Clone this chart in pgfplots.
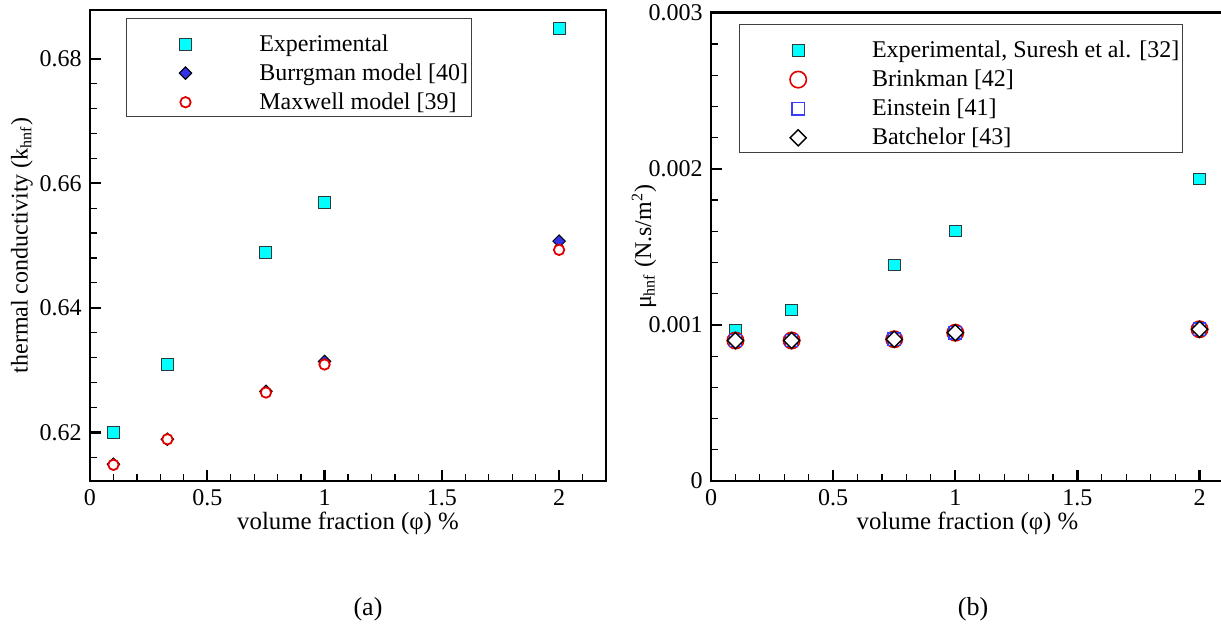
\documentclass[border=0pt]{standalone}
\usepackage{pgfplots}
\pgfplotsset{compat=1.18}
\usepackage{fontspec}
\setmainfont{Liberation Serif}
\definecolor{expcyan}{RGB}{0,255,255}
\definecolor{edgegray}{RGB}{40,60,60}
\definecolor{bfill}{RGB}{50,50,230}
\definecolor{mred}{RGB}{225,0,0}
\definecolor{eblue}{RGB}{60,60,255}
\pgfplotsset{
  myaxis/.style={
    scale only axis,
    axis line style={line width=1.4pt},
    tick align=inside,
    tick pos=left,
    major tick length=5.5pt,
    minor tick length=3.3pt,
    every major tick/.style={line width=1.1pt, black},
    every minor tick/.style={line width=0.6pt, black},
    /pgf/number format/assume math mode=true,
    xtick={0,0.5,1,1.5,2},
    minor xtick={0.1,0.2,0.3,0.4,0.6,0.7,0.8,0.9,1.1,1.2,1.3,1.4,1.6,1.7,1.8,1.9,2.1},
    xmin=0,
    legend image code/.code={
      \path[draw=none,fill=none] (0pt,3.6pt) -- (65pt,3.6pt);
      \draw[mark repeat=1,##1] plot coordinates {(28.1pt,3.6pt)};
    },
    legend style={
      draw=black!75, line width=0.5pt,
      inner xsep=1.5pt, inner ysep=2.7pt,
      row sep=-0.35pt, column sep=0pt,
      cells={anchor=base west},
      nodes={inner sep=0pt, text height=13.9pt, text depth=1pt},
      anchor=north west,
    },
    every axis x label/.style={at={(axis description cs:0.5,-0.104)}, anchor=base, font=\fontsize{12.4}{15}\selectfont},
    xlabel={volume fraction (φ) \%},
  },
}
\begin{document}
\fontsize{12}{14.4}\selectfont
\begin{tikzpicture}[font=\fontsize{12}{14.4}\selectfont]
\useasboundingbox (0pt,0pt) rectangle (610.5pt,-314pt);

% ---------------- (a) ----------------
\begin{axis}[myaxis,
  at={(45pt,-240.5pt)}, anchor=south west,
  width=258pt, height=235.5pt,
  xmax=2.2,
  ymin=0.6122, ymax=0.6878,
  ytick={0.62,0.64,0.66,0.68},
  minor ytick={0.616,0.624,0.628,0.632,0.636,0.644,0.648,0.652,0.656,0.664,0.668,0.672,0.676},
  yticklabel style={/pgf/number format/fixed,/pgf/number format/precision=2,/pgf/number format/fixed zerofill},
  ylabel={thermal conductivity (k\textsubscript{hnf})},
  every axis y label/.style={at={(axis description cs:-0.1318,0.5)}, rotate=90, anchor=center},
  legend style={at={(axis description cs:0.0694,0.984)}},
]
\addplot[only marks, mark=square*, mark size=3pt,
  mark options={fill=expcyan, draw=edgegray, line width=0.5pt}]
  coordinates {(0.1,0.6200) (0.33,0.6309) (0.75,0.6489) (1,0.6569) (2,0.6849)};
\addlegendentry{Experimental}
\addplot[only marks, mark=square*, mark size=2.2pt,
  mark options={rotate=45, fill=bfill, draw=black, line width=0.5pt}]
  coordinates {(0.1,0.6149) (0.33,0.6189) (0.75,0.6266) (1,0.6314) (2,0.6507)};
\addlegendentry{Burrgman model [40]}
\addplot[only marks, mark=*, mark size=2.6pt,
  mark options={fill=white, draw=mred, line width=0.9pt}]
  coordinates {(0.1,0.6148) (0.33,0.6189) (0.75,0.6264) (1,0.6309) (2,0.6493)};
\addlegendentry{Maxwell model [39]}
\end{axis}

% ---------------- (b) ----------------
\begin{axis}[myaxis,
  at={(355.5pt,-240.5pt)}, anchor=south west,
  width=256.5pt, height=234.15pt,
  xmax=2.1,
  ymin=0, ymax=0.003,
  ytick={0,0.001,0.002,0.003},
  minor y tick num=4,
  scaled y ticks=false,
  yticklabel style={/pgf/number format/fixed,/pgf/number format/precision=3},
  ylabel={μ\textsubscript{hnf} (N.s/m\textsuperscript{2})},
  every axis y label/.style={at={(axis description cs:-0.1306,0.5)}, rotate=90, anchor=center},
  legend style={at={(axis description cs:0.0536,0.9759)}},
]
\addplot[only marks, mark=square*, mark size=2.9pt,
  mark options={fill=expcyan, draw=edgegray, line width=0.5pt}]
  coordinates {(0.1,0.000968) (0.33,0.001095) (0.75,0.001384) (1,0.001602) (2,0.001935)};
\addlegendentry{Experimental, Suresh et al. [32]}
\addplot[only marks, mark=*, mark size=4.1pt,
  mark options={fill=white, draw=mred, line width=0.8pt}]
  coordinates {(0.1,0.000900) (0.33,0.000900) (0.75,0.000908) (1,0.000950) (2,0.000972)};
\addlegendentry{Brinkman [42]}
\addplot[only marks, mark=square, mark size=3.1pt,
  mark options={draw=eblue, line width=0.6pt}]
  coordinates {(0.1,0.000900) (0.33,0.000900) (0.75,0.000908) (1,0.000950) (2,0.000972)};
\addlegendentry{Einstein [41]}
\addplot[only marks, mark=square*, mark size=2.85pt,
  mark options={rotate=45, fill=white, draw=black, line width=0.7pt}]
  coordinates {(0.1,0.000900) (0.33,0.000900) (0.75,0.000908) (1,0.000950) (2,0.000972)};
\addlegendentry{Batchelor [43]}
\end{axis}

\node[anchor=base, font=\fontsize{13}{15}\selectfont] at (184pt,-307.5pt) {(a)};
\node[anchor=base, font=\fontsize{13}{15}\selectfont] at (486.5pt,-307.5pt) {(b)};
\end{tikzpicture}
\end{document}
